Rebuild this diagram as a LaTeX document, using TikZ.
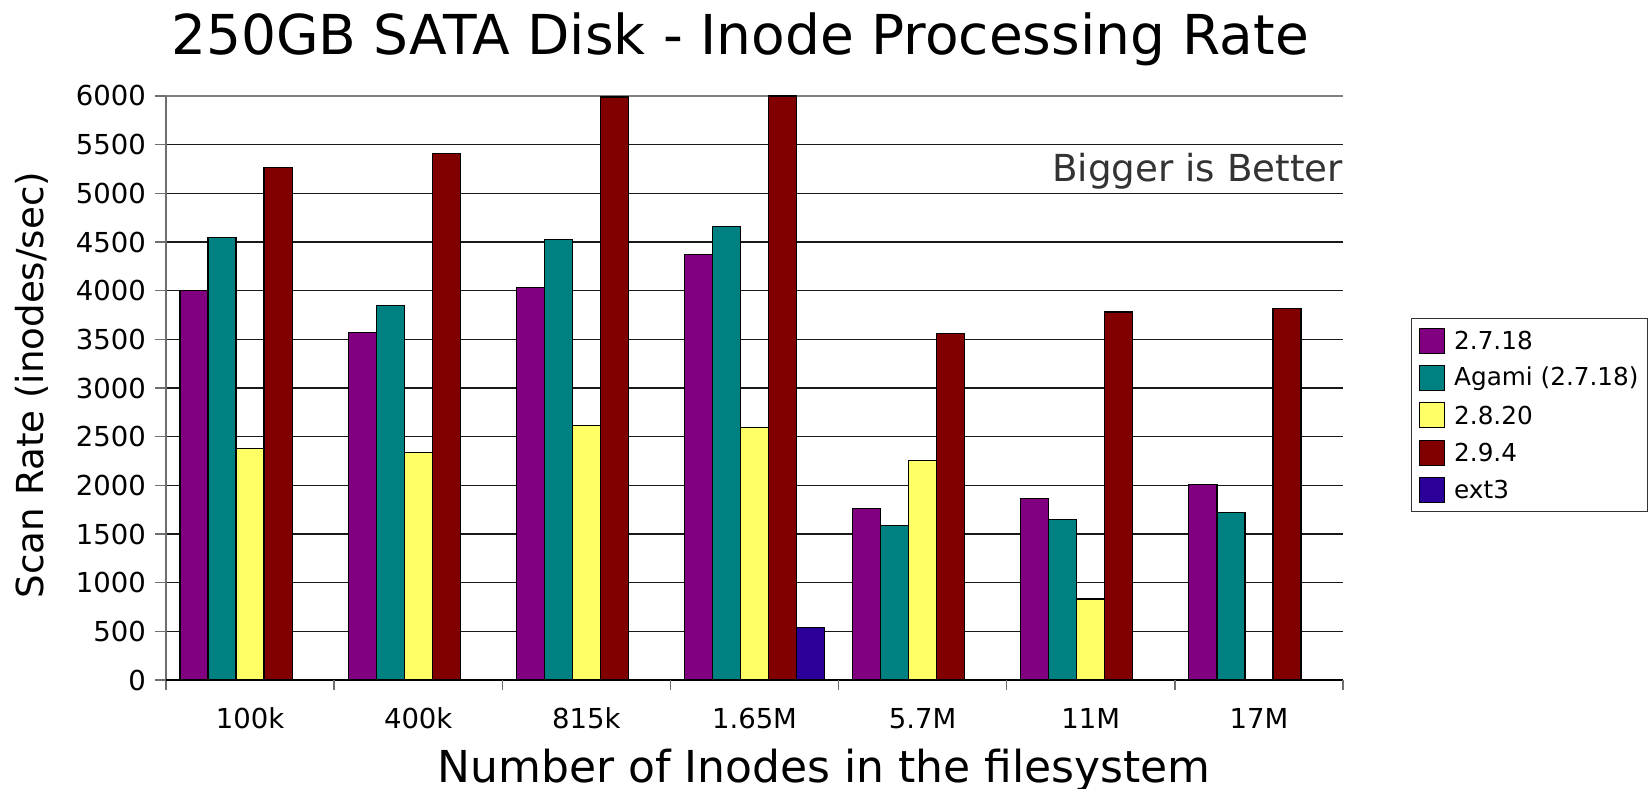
\documentclass[tikz,border=0pt]{standalone}
\usepackage{fontspec}
\setmainfont{DejaVu Sans}
\definecolor{sPurple}{RGB}{128,0,128}
\definecolor{sTeal}{RGB}{0,128,128}
\definecolor{sYellow}{RGB}{255,255,102}
\definecolor{sMaroon}{RGB}{128,0,0}
\definecolor{sIndigo}{RGB}{42,0,153}
\definecolor{noteGray}{RGB}{51,51,51}
\definecolor{axisGray}{RGB}{110,110,110}

% value -> vertical position (0 at 680, 6000 at 96)
\newcommand\valy[1]{680-(#1)*0.0973333}
% one data series: #1 = slot within a group, #2 = colour, #3 = values
\newcommand\drawseries[3]{%
  \foreach \v [count=\g from 0] in {#3} {%
    \draw[barbox,fill=#2] ({166+\g*168.143+14.02+#1*28.024},680) rectangle ++(28.024,{-(\v)*0.0973333});
  }%
}

\begin{document}
\begin{tikzpicture}[x=1pt,y=-1pt,
  barbox/.style={draw=black,line width=1.2pt},
  gridline/.style={draw=black!90,line width=1.05pt},
  axisline/.style={draw=axisGray,line width=1.3pt},
  ticklabel/.style={inner sep=0pt,font=\fontsize{27.5}{30}\selectfont},
  legendtext/.style={inner sep=0pt,anchor=west,font=\fontsize{24.7}{28}\selectfont},
  swatch/.style={draw=black,line width=1pt,minimum width=25pt,minimum height=25pt,inner sep=0pt,anchor=north west}]
\useasboundingbox (0,0) rectangle (1648,789);
\fill[white] (0,0) rectangle (1648,789);

% horizontal grid
\foreach \v in {500,1000,...,5500}
  \draw[gridline] (166,{\valy{\v}}) -- (1343,{\valy{\v}});
\draw[draw=gray,line width=1.4pt] (166,96) -- (1343,96);

% value axis with ticks and labels
\foreach \v in {0,500,...,6000} {
  \draw[axisline] (155,{\valy{\v}}) -- (166,{\valy{\v}});
  \node[ticklabel,anchor=east] (ylab\v) at (146,{\valy{\v}}) {\v};
}

% bars
\drawseries{0}{sPurple}{4000,3570,4030,4375,1763,1862,2005}
\drawseries{1}{sTeal}{4545,3850,4527,4660,1590,1650,1722}
\drawseries{2}{sYellow}{2380,2340,2612,2592,2255,832,0}
\drawseries{3}{sMaroon}{5267,5408,5990,6000,3562,3781,3818}
\drawseries{4}{sIndigo}{0,0,0,538,0,0,0}

% axes
\draw[axisline] (166,96) -- (166,690);
\draw[draw=black,line width=1.3pt] (166,680) -- (1343,680);
\foreach \k in {1,...,7}
  \draw[axisline] ({166+\k*168.143},680) -- ({166+\k*168.143},690);

% category labels
\foreach \name [count=\g from 0] in {100k,400k,815k,1.65M,5.7M,11M,17M}
  \node[ticklabel,anchor=base] (xlab\g) at ({166+\g*168.143+84.07},728) {\name};

% titles
\node[inner sep=0pt,anchor=base,font=\fontsize{55}{60}\selectfont] (title) at (740,54.6)
  {250GB SATA Disk - Inode Processing Rate};
\node[inner sep=0pt,anchor=base,rotate=90,font=\fontsize{37.2}{42}\selectfont] (ytitle) at (43,385)
  {Scan Rate (inodes/sec)};
\node[inner sep=0pt,anchor=base,font=\fontsize{44}{48}\selectfont] (xtitle) at (824,782)
  {Number of Inodes in the filesystem};
\node[inner sep=0pt,anchor=base east,text=noteGray,font=\fontsize{37.2}{40}\selectfont] (note) at (1343,181.7)
  {Bigger is Better};

% legend
\node[draw=black!80,line width=1.2pt,minimum width=236pt,minimum height=193pt,anchor=north west,inner sep=0pt] (legend) at (1411,318) {};
\foreach \col/\txt [count=\i from 0] in {sPurple/2.7.18,sTeal/Agami (2.7.18),sYellow/2.8.20,sMaroon/2.9.4,sIndigo/ext3} {
  \node[swatch,fill=\col] (sw\i) at (1419,{328+\i*37.2}) {};
  \node[legendtext] (lt\i) at ([xshift=9pt]sw\i.east) {\txt};
}
\end{tikzpicture}
\end{document}
